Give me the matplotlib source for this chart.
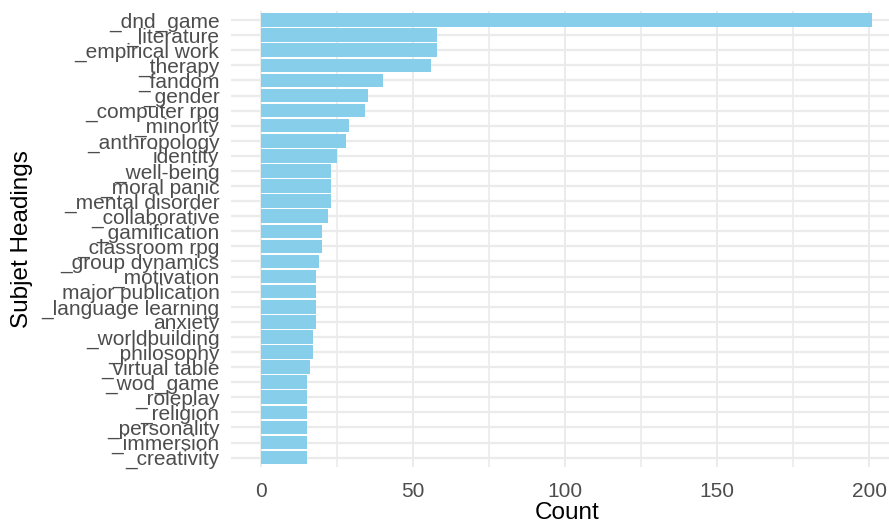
import matplotlib
matplotlib.use("Agg")
import matplotlib.pyplot as plt
import numpy as np

# categories from bottom to top
categories = [
    "_creativity", "_immersion", "_personality", "_religion", "_roleplay",
    "_wod_game", "_virtual table", "_philosophy", "_worldbuilding", "anxiety",
    "_language learning", "major publication", "_motivation", "_group dynamics",
    "_classroom rpg", "_gamification", "_collaborative", "_mental disorder",
    "_moral panic", "_well-being", "identity", "_anthropology", "_minority",
    "_computer rpg", "_gender", "_fandom", "_therapy", "_empirical work",
    "_literature", "_dnd_game",
]
counts = [
    15, 15, 15, 15, 15,
    15, 16, 17, 17, 18,
    18, 18, 18, 19,
    20, 20, 22, 23,
    23, 23, 25, 28, 29,
    34, 35, 40, 56, 58,
    58, 201,
]
x_ticks = [0, 50, 100, 150, 200]
x_minor = [25, 75, 125, 175]

plt.rcParams['font.family'] = ['Liberation Sans', 'DejaVu Sans']

W, H = 889, 525
fig = plt.figure(figsize=(W / 100, H / 100), dpi=100)
left_px, right_px = 230.7, 902.6
top_px, bottom_px = 11.0, 466.7
ax = fig.add_axes([left_px / W, (H - bottom_px) / H,
                   (right_px - left_px) / W, (bottom_px - top_px) / H])

n = len(categories)
ypos = np.arange(1, n + 1)
ax.barh(ypos, counts, height=0.9, color="#87CEEB", zorder=2)

xmax = max(counts)
ax.set_xlim(-0.05 * xmax, 1.05 * xmax)
ax.set_ylim(0.4, n + 0.6)

ax.set_yticks(ypos)
ax.set_yticklabels(categories)
ax.set_xticks(x_ticks)
ax.set_xticklabels([str(t) for t in x_ticks])
ax.set_xticks(x_minor, minor=True)

grid_c = "#EBEBEB"
ax.grid(True, axis="y", which="major", color=grid_c, linewidth=1.6, zorder=0)
ax.grid(True, axis="x", which="major", color=grid_c, linewidth=1.4, zorder=0)
ax.grid(True, axis="x", which="minor", color=grid_c, linewidth=1.2, zorder=0)
ax.set_axisbelow(True)

for s in ax.spines.values():
    s.set_visible(False)

ax.tick_params(axis="y", which="both", length=0, pad=8.0,
               labelsize=15, labelcolor="#4D4D4D")
ax.tick_params(axis="x", which="both", length=0, pad=11,
               labelsize=15, labelcolor="#4D4D4D")

ax.set_xlabel("Count", fontsize=17.5, color="black", labelpad=1)
ax.set_ylabel("Subjet Headings", fontsize=17.5, color="black")
ax.yaxis.set_label_coords(-(left_px - 22) / (right_px - left_px), 0.5)
ax.yaxis.label.set_verticalalignment("center")

fig.savefig("out.png", dpi=100)
